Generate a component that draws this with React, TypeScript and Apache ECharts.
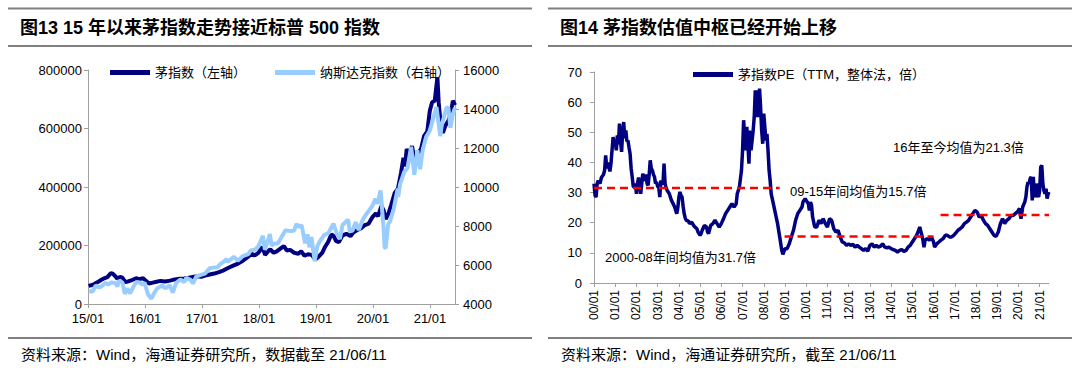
import React, { useEffect, useRef } from "react";
import * as echarts from "echarts";

const FONT = "Arial, 'Liberation Sans', 'Noto Sans CJK SC', sans-serif";

// ---------- Left chart: 茅指数 vs 纳斯达克 ----------
const maoDates = [
  "2015-01-05", "2015-01-20", "2015-02-10", "2015-03-05", "2015-03-25", "2015-04-15", "2015-05-05", "2015-05-28",
  "2015-06-10", "2015-06-25", "2015-07-08", "2015-07-25", "2015-08-10", "2015-08-26", "2015-09-15", "2015-10-10",
  "2015-11-05", "2015-11-25", "2015-12-20", "2016-01-05", "2016-01-28", "2016-02-20", "2016-03-15", "2016-04-10",
  "2016-05-10", "2016-06-10", "2016-07-10", "2016-08-10", "2016-09-10", "2016-10-10", "2016-11-10", "2016-12-10",
  "2016-12-28", "2017-01-20", "2017-02-20", "2017-03-20", "2017-04-20", "2017-05-20", "2017-06-20", "2017-07-20",
  "2017-08-20", "2017-09-20", "2017-10-20", "2017-11-15", "2017-12-05", "2017-12-28", "2018-01-24", "2018-02-09",
  "2018-02-28", "2018-03-15", "2018-04-05", "2018-04-25", "2018-05-20", "2018-06-10", "2018-06-28", "2018-07-20",
  "2018-08-15", "2018-09-10", "2018-09-28", "2018-10-20", "2018-11-10", "2018-12-05", "2018-12-28", "2019-01-15",
  "2019-02-10", "2019-02-28", "2019-03-20", "2019-04-10", "2019-04-25", "2019-05-10", "2019-05-28", "2019-06-20",
  "2019-07-15", "2019-08-10", "2019-08-30", "2019-09-20", "2019-10-15", "2019-11-10", "2019-12-05", "2019-12-30",
  "2020-01-20", "2020-02-03", "2020-02-24", "2020-03-10", "2020-03-23", "2020-04-10", "2020-04-28", "2020-05-20",
  "2020-06-10", "2020-06-30", "2020-07-15", "2020-07-25", "2020-08-05", "2020-08-20", "2020-09-08", "2020-09-25",
  "2020-10-15", "2020-11-05", "2020-11-25", "2020-12-15", "2020-12-31", "2021-01-15", "2021-02-01", "2021-02-18",
  "2021-02-26", "2021-03-10", "2021-03-25", "2021-04-10", "2021-04-28", "2021-05-15", "2021-05-28", "2021-06-11",
];
const maoValues = [
  62000, 64000, 68000, 75000, 82000, 88000, 92000, 106000,
  103000, 95000, 86000, 93000, 90000, 75000, 77000, 82000,
  88000, 85000, 88000, 80000, 70000, 73000, 76000, 79000,
  77000, 80000, 84000, 86000, 87000, 90000, 93000, 95000,
  93000, 97000, 101000, 104000, 109000, 115000, 124000, 131000,
  138000, 148000, 160000, 172000, 166000, 175000, 195000, 168000,
  180000, 187000, 175000, 180000, 190000, 198000, 183000, 185000,
  175000, 172000, 180000, 165000, 170000, 168000, 152000, 160000,
  175000, 195000, 212000, 238000, 232000, 215000, 212000, 235000,
  240000, 232000, 245000, 252000, 258000, 270000, 275000, 298000,
  310000, 300000, 335000, 320000, 290000, 310000, 340000, 380000,
  395000, 450000, 500000, 470000, 530000, 510000, 540000, 490000,
  515000, 530000, 575000, 590000, 660000, 690000, 695000, 775000,
  690000, 620000, 585000, 610000, 625000, 650000, 695000, 680000,
];

const nasdaqDates = [
  "2015-01-05", "2015-01-30", "2015-02-20", "2015-03-10", "2015-03-25", "2015-04-24", "2015-05-10", "2015-05-28",
  "2015-06-25", "2015-07-08", "2015-07-20", "2015-08-10", "2015-08-25", "2015-09-10", "2015-09-28", "2015-10-20",
  "2015-11-05", "2015-11-25", "2015-12-15", "2015-12-29", "2016-01-20", "2016-02-11", "2016-02-28", "2016-03-20",
  "2016-04-20", "2016-05-10", "2016-06-08", "2016-06-27", "2016-07-20", "2016-08-15", "2016-09-10", "2016-09-22",
  "2016-10-20", "2016-11-04", "2016-11-25", "2016-12-20", "2017-01-20", "2017-02-20", "2017-03-10", "2017-04-10",
  "2017-04-28", "2017-05-25", "2017-06-08", "2017-06-15", "2017-07-25", "2017-08-18", "2017-09-20", "2017-10-25",
  "2017-11-10", "2017-12-05", "2017-12-28", "2018-01-26", "2018-02-08", "2018-03-12", "2018-03-23", "2018-04-10",
  "2018-05-02", "2018-05-25", "2018-06-20", "2018-07-10", "2018-07-27", "2018-08-15", "2018-08-29", "2018-09-12",
  "2018-10-01", "2018-10-24", "2018-11-08", "2018-11-20", "2018-12-03", "2018-12-24", "2019-01-10", "2019-01-31",
  "2019-02-25", "2019-03-22", "2019-04-23", "2019-05-13", "2019-06-03", "2019-06-20", "2019-07-26", "2019-08-05",
  "2019-08-23", "2019-09-12", "2019-10-02", "2019-10-28", "2019-11-27", "2019-12-27", "2020-01-17", "2020-01-31",
  "2020-02-19", "2020-03-09", "2020-03-16", "2020-03-23", "2020-04-08", "2020-04-21", "2020-05-13", "2020-06-08",
  "2020-06-11", "2020-06-23", "2020-07-20", "2020-08-10", "2020-09-02", "2020-09-23", "2020-10-12", "2020-10-30",
  "2020-11-16", "2020-12-08", "2020-12-31", "2021-01-26", "2021-02-12", "2021-03-08", "2021-03-19", "2021-04-16",
  "2021-04-29", "2021-05-12", "2021-05-28", "2021-06-11",
];
const nasdaqValues = [
  4650, 4640, 4950, 4860, 4880, 5090, 4990, 5100,
  5080, 4900, 5210, 5100, 4520, 4800, 4540, 4900,
  5120, 5110, 5000, 5100, 4500, 4270, 4550, 4800,
  4950, 4800, 4960, 4590, 5090, 5260, 5130, 5340,
  5240, 5050, 5400, 5480, 5560, 5840, 5860, 5880,
  6050, 6200, 6320, 6150, 6420, 6220, 6460, 6560,
  6750, 6780, 6950, 7500, 6780, 7590, 6990, 7100,
  7100, 7430, 7780, 7750, 7740, 7770, 8110, 7950,
  8040, 7110, 7570, 6910, 7440, 6190, 6980, 7280,
  7550, 7640, 8120, 7650, 7330, 8050, 8330, 7730,
  7750, 8190, 7790, 8330, 8700, 9010, 9390, 9150,
  9820, 7950, 6900, 6860, 8090, 8260, 8860, 9920,
  9490, 10130, 10770, 10970, 12060, 10630, 11880, 10910,
  11920, 12580, 12890, 13630, 14100, 12610, 13220, 14050,
  14080, 13030, 13750, 14070,
];

const leftYears = [2015, 2016, 2017, 2018, 2019, 2020, 2021];

// ---------- Right chart: 茅指数PE ----------
const peTime = [
  2000.0, 2000.05, 2000.1, 2000.15, 2000.2, 2000.28, 2000.35, 2000.45, 2000.5, 2000.55, 2000.6, 2000.65, 2000.75, 2000.8, 2000.85, 2000.9, 2000.95,
  2001.0, 2001.05, 2001.1, 2001.15, 2001.2, 2001.25, 2001.3, 2001.35, 2001.4, 2001.45, 2001.5, 2001.55, 2001.6, 2001.65, 2001.7, 2001.75, 2001.8, 2001.85, 2001.9, 2001.95,
  2002.0, 2002.05, 2002.1, 2002.15, 2002.2, 2002.25, 2002.3, 2002.35, 2002.4, 2002.45, 2002.5, 2002.55, 2002.6, 2002.65, 2002.7, 2002.75, 2002.8, 2002.85, 2002.9, 2002.95,
  2003.0, 2003.05, 2003.1, 2003.15, 2003.2, 2003.25, 2003.3, 2003.35, 2003.4, 2003.45, 2003.55, 2003.65, 2003.75, 2003.8, 2003.9, 2003.95,
  2004.0, 2004.05, 2004.1, 2004.15, 2004.2, 2004.25, 2004.3, 2004.35, 2004.45, 2004.5, 2004.6, 2004.7, 2004.75, 2004.85, 2004.9,
  2005.0, 2005.05, 2005.1, 2005.2, 2005.3, 2005.35, 2005.4, 2005.5, 2005.6, 2005.7, 2005.8, 2005.9,
  2006.0, 2006.1, 2006.2, 2006.3, 2006.4, 2006.5, 2006.6, 2006.7, 2006.75, 2006.85, 2006.95,
  2007.0, 2007.05, 2007.1, 2007.15, 2007.2, 2007.25, 2007.3, 2007.35, 2007.4, 2007.45, 2007.5, 2007.55, 2007.6, 2007.65, 2007.7, 2007.75, 2007.8, 2007.85, 2007.9, 2007.95,
  2008.0, 2008.05, 2008.1, 2008.15, 2008.2, 2008.25, 2008.3, 2008.35, 2008.45, 2008.55, 2008.65, 2008.75, 2008.85, 2008.9,
  2009.0, 2009.1, 2009.2, 2009.3, 2009.4, 2009.5, 2009.6, 2009.7, 2009.8, 2009.85, 2009.95,
  2010.0, 2010.1, 2010.15, 2010.2, 2010.25, 2010.3, 2010.4, 2010.5, 2010.6, 2010.7, 2010.8, 2010.9,
  2011.0, 2011.1, 2011.2, 2011.3, 2011.4, 2011.5, 2011.6, 2011.7, 2011.8, 2011.9,
  2012.0, 2012.1, 2012.2, 2012.3, 2012.4, 2012.5, 2012.6, 2012.7, 2012.8, 2012.9,
  2013.0, 2013.1, 2013.2, 2013.3, 2013.4, 2013.5, 2013.6, 2013.7, 2013.8, 2013.9,
  2014.0, 2014.1, 2014.2, 2014.3, 2014.4, 2014.5, 2014.6, 2014.7, 2014.8, 2014.9,
  2015.0, 2015.1, 2015.2, 2015.3, 2015.35, 2015.45, 2015.5, 2015.55, 2015.6, 2015.7, 2015.8, 2015.9,
  2016.0, 2016.05, 2016.15, 2016.25, 2016.35, 2016.45, 2016.55, 2016.65, 2016.75, 2016.85, 2016.95,
  2017.05, 2017.15, 2017.25, 2017.35, 2017.45, 2017.55, 2017.65, 2017.75, 2017.85, 2017.95,
  2018.05, 2018.15, 2018.25, 2018.35, 2018.45, 2018.55, 2018.65, 2018.75, 2018.85, 2018.95,
  2019.05, 2019.15, 2019.25, 2019.35, 2019.45, 2019.55, 2019.65, 2019.75, 2019.85, 2019.95,
  2020.05, 2020.12, 2020.2, 2020.3, 2020.35, 2020.4, 2020.45, 2020.5, 2020.55, 2020.6, 2020.65, 2020.7, 2020.75, 2020.8, 2020.85, 2020.9, 2020.95,
  2021.0, 2021.05, 2021.1, 2021.15, 2021.2, 2021.25, 2021.3, 2021.35, 2021.4, 2021.44,
];
const peValues = [
  33, 29, 28.5, 33, 34, 33, 35, 36, 37.4, 42.3, 38, 40, 37, 39.6, 44, 48.4, 46,
  47.3, 44, 49, 46, 52.9, 47, 43.5, 50, 53.4, 48, 50.6, 47, 47.3, 45, 42.9, 38, 35.2, 32, 31.8, 33,
  29.6, 33, 35, 32, 29.6, 33, 36.3, 34, 34.6, 36, 33, 32.4, 36, 40.7, 38, 37.4, 36, 35.2, 33, 33.5,
  32, 31.8, 28.5, 34, 33, 33, 39.6, 33, 31.5, 30.7, 29.6, 27.4, 26, 25.2, 23, 25,
  28.5, 30.2, 29, 28.5, 25.5, 23, 21.5, 20.8, 20.5, 19.7, 20.2, 19, 18.6, 18, 16.9,
  15.8, 16.5, 17.5, 19.1, 18.6, 17, 16.4, 19.1, 19.7, 20.8, 19.7, 18.6,
  19.7, 21.3, 23, 24.1, 25.2, 26.3, 25.2, 26.3, 29.6, 31.8, 37.4,
  44, 54, 48.4, 44, 51.8, 46.2, 39.6, 50.6, 44, 47.3, 50.6, 55, 63.9, 55, 63.9, 55, 64.5, 58.4, 50.6, 46.2,
  56.2, 51.8, 47.3, 49.5, 44, 37.4, 34, 29.6, 26.3, 23, 19.7, 15.3, 10.8, 9.5,
  11.4, 11.4, 13, 15.3, 17.5, 20.8, 23, 24.1, 25.2, 26.9, 28,
  27.4, 26.3, 24.1, 26.9, 25.8, 21.9, 18.6, 18.6, 20.8, 19.7, 21.3, 19.7,
  18.6, 21.3, 20.8, 18, 16.9, 17.5, 15.3, 13.6, 13.3, 12.5,
  13, 12.5, 12.8, 11.9, 12.5, 11.9, 11.4, 10.8, 11.4, 10.6,
  12.5, 13, 11.9, 12.5, 11.9, 12.2, 13, 11.9, 11.7, 11.9,
  11.4, 11.1, 10.8, 10.3, 10.8, 11.1, 10.5, 10.8, 11.9, 12.5,
  13.6, 14.7, 15.8, 17.5, 18.6, 15.8, 14.2, 11.9, 14.2, 14.7, 14.2, 15.3,
  13.6, 11.9, 13, 13.6, 14.2, 14.7, 15.8, 15.8, 15.3, 15.3, 15.8,
  16.6, 17.5, 18, 18.6, 19.7, 20.2, 20.8, 21.9, 23, 24.1,
  23.6, 21.9, 22.4, 20.8, 19.7, 19.1, 18, 16.9, 15.8, 15.5,
  16.9, 19.7, 21.3, 19.7, 20.8, 21.3, 22.4, 22.4, 23, 23.6,
  24.7, 21.3, 25.2, 26.9, 28.5, 31.8, 33.5, 33, 34.6, 35.2, 27.4, 35.2, 29.6, 28.5, 33, 29.6, 28.5,
  30.7, 38.5, 39, 33, 30.7, 29.6, 31.3, 28, 29.6, 30.2,
];

// average-level segments drawn as red dashed lines
const meanStarts = [2000.0, 2008.98, 2016.33];
const meanEnds = [2008.75, 2016.0, 2021.44];
const meanLevels = [31.5, 15.4, 22.6];

const rightYears = [
  2000, 2001, 2002, 2003, 2004, 2005, 2006, 2007, 2008, 2009, 2010,
  2011, 2012, 2013, 2014, 2015, 2016, 2017, 2018, 2019, 2020, 2021,
];

function toYear(s: string): number {
  const [y, m, d] = s.split("-").map(Number);
  const t = Date.UTC(y, m - 1, d);
  const t0 = Date.UTC(y, 0, 1);
  const t1 = Date.UTC(y + 1, 0, 1);
  return y + (t - t0) / (t1 - t0);
}

const yearLabel = (v: number) => {
  const r = Math.round(v);
  return String(r % 100).padStart(2, "0") + "/01";
};
const plainNum = (v: number) => String(v);

const AXIS_COLOR = "#a0a0a0";

function buildOption(): any {
  const maoData = maoDates.map((d, i) => [toYear(d), maoValues[i]]);
  const nasData = nasdaqDates.map((d, i) => [toYear(d), nasdaqValues[i]]);
  const peData = peTime.map((t, i) => [t, peValues[i]]);

  const baseAxis = {
    axisLine: { show: true, lineStyle: { color: AXIS_COLOR, width: 1 } },
    axisTick: { show: true, length: 4, inside: false, lineStyle: { color: AXIS_COLOR } },
    splitLine: { show: false },
  };

  const meanSeries = meanLevels.map((lv, i) => ({
    type: "line",
    xAxisIndex: 1,
    yAxisIndex: 2,
    data: [
      [meanStarts[i], lv],
      [meanEnds[i], lv],
    ],
    symbol: "none",
    silent: true,
    z: 5,
    lineStyle: { color: "#FF0000", width: 2.5, type: [8, 5] },
  }));

  const legendText = { fontSize: 13, color: "#000", fontFamily: FONT };

  const text = (x: number, y: number, t: string, size: number, bold = false) => ({
    type: "text",
    x,
    y,
    silent: true,
    style: {
      text: t,
      fontSize: size,
      fontWeight: bold ? "bold" : "normal",
      fontFamily: FONT,
      fill: "#000",
      align: "left",
      verticalAlign: "middle",
    },
  });
  const hline = (x1: number, x2: number, y: number) => ({
    type: "line",
    silent: true,
    shape: { x1, y1: y, x2, y2: y },
    style: { stroke: "#808080", lineWidth: 2 },
  });

  return {
    animation: false,
    backgroundColor: "#fff",
    grid: [
      { left: 88, top: 70, width: 367, height: 234 },
      { left: 594, top: 72, width: 455, height: 211 },
    ],
    legend: [
      {
        data: ["茅指数（左轴）"],
        left: 105,
        top: 61,
        icon: "rect",
        itemWidth: 40,
        itemHeight: 5,
        textStyle: legendText,
      },
      {
        data: ["纳斯达克指数（右轴）"],
        left: 270,
        top: 61,
        icon: "rect",
        itemWidth: 40,
        itemHeight: 5,
        textStyle: legendText,
      },
      {
        data: ["茅指数PE（TTM，整体法，倍）"],
        left: 688,
        top: 63,
        icon: "rect",
        itemWidth: 40,
        itemHeight: 5,
        textStyle: legendText,
      },
    ],
    xAxis: [
      {
        ...baseAxis,
        gridIndex: 0,
        type: "value",
        min: 2015,
        max: 2021.44,
        axisTick: { ...baseAxis.axisTick, customValues: leftYears },
        axisLabel: {
          customValues: leftYears,
          formatter: yearLabel,
          fontSize: 13,
          color: "#000",
          fontFamily: FONT,
          margin: 8,
        },
      },
      {
        ...baseAxis,
        gridIndex: 1,
        type: "value",
        min: 2000,
        max: 2021.44,
        axisTick: { ...baseAxis.axisTick, customValues: rightYears },
        axisLabel: {
          customValues: rightYears,
          formatter: yearLabel,
          rotate: 90,
          fontSize: 12,
          color: "#000",
          fontFamily: FONT,
          margin: 7,
        },
      },
    ],
    yAxis: [
      {
        ...baseAxis,
        gridIndex: 0,
        type: "value",
        position: "left",
        min: 0,
        max: 800000,
        interval: 200000,
        axisLabel: { fontSize: 13, color: "#000", fontFamily: FONT, margin: 6, formatter: plainNum },
      },
      {
        ...baseAxis,
        gridIndex: 0,
        type: "value",
        position: "right",
        min: 4000,
        max: 16000,
        interval: 2000,
        axisLabel: { fontSize: 13, color: "#000", fontFamily: FONT, margin: 8, formatter: plainNum },
      },
      {
        ...baseAxis,
        gridIndex: 1,
        type: "value",
        position: "left",
        min: 0,
        max: 70,
        interval: 10,
        axisLabel: { fontSize: 13, color: "#000", fontFamily: FONT, margin: 12, formatter: plainNum },
      },
    ],
    series: [
      {
        name: "茅指数（左轴）",
        type: "line",
        xAxisIndex: 0,
        yAxisIndex: 0,
        data: maoData,
        symbol: "none",
        color: "#000080",
        lineStyle: { color: "#000080", width: 4 },
        z: 2,
      },
      {
        name: "纳斯达克指数（右轴）",
        type: "line",
        xAxisIndex: 0,
        yAxisIndex: 1,
        data: nasData,
        symbol: "none",
        color: "#99CCFF",
        lineStyle: { color: "#99CCFF", width: 4 },
        z: 3,
      },
      {
        name: "茅指数PE（TTM，整体法，倍）",
        type: "line",
        xAxisIndex: 1,
        yAxisIndex: 2,
        data: peData,
        symbol: "none",
        color: "#000080",
        lineStyle: { color: "#000080", width: 3.5 },
        z: 3,
      },
      ...meanSeries,
    ],
    graphic: [
      hline(8, 532, 8.5),
      hline(8, 532, 46),
      hline(548, 1072, 8.5),
      hline(548, 1072, 46),
      hline(8, 532, 338),
      hline(548, 1072, 338),
      text(20, 27.5, "图13 15 年以来茅指数走势接近标普 500 指数", 18, true),
      text(560, 27.5, "图14 茅指数估值中枢已经开始上移", 18, true),
      text(21, 354, "资料来源：Wind，海通证券研究所，数据截至 21/06/11", 15),
      text(561, 354, "资料来源：Wind，海通证券研究所，截至 21/06/11", 15),
      text(605, 257, "2000-08年间均值为31.7倍", 13),
      text(790, 191, "09-15年间均值为15.7倍", 13),
      text(893, 147, "16年至今均值为21.3倍", 13),
    ],
  };
}

export default function App() {
  const ref = useRef<HTMLDivElement>(null);
  useEffect(() => {
    if (!ref.current) return;
    const chart = echarts.init(ref.current, null, { renderer: "svg" });
    chart.setOption(buildOption());
    return () => chart.dispose();
  }, []);
  return (
    <div
      ref={ref}
      style={{ position: "fixed", left: 0, top: 0, width: 1080, height: 368, background: "#fff" }}
    />
  );
}
